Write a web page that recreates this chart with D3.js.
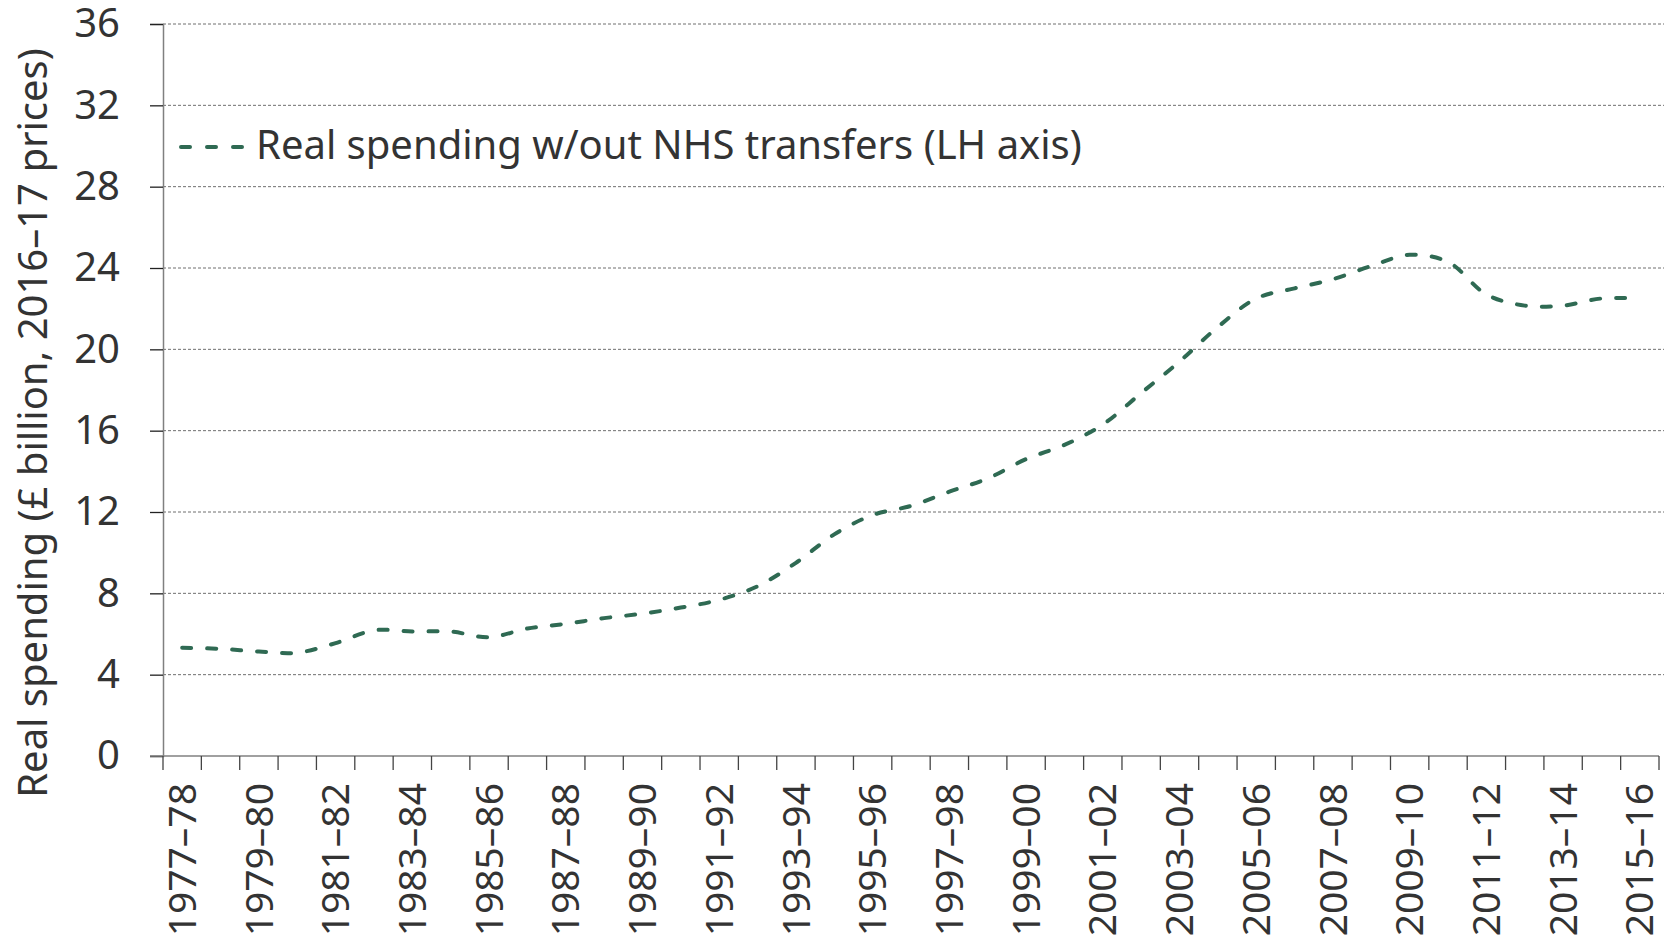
<!DOCTYPE html>
<html>
<head>
<meta charset="utf-8">
<script src="https://cdn.jsdelivr.net/npm/d3@7"></script>
<style>
  html, body { margin: 0; padding: 0; background: #fff; }
  svg { display: block; font-family: "Noto Sans", "Open Sans", sans-serif; }
</style>
</head>
<body>
<svg id="chart" width="1664" height="939"></svg>
<script>
const categories = ["1977–78","1978–79","1979–80","1980–81","1981–82","1982–83","1983–84","1984–85","1985–86","1986–87",
  "1987–88","1988–89","1989–90","1990–91","1991–92","1992–93","1993–94","1994–95","1995–96","1996–97",
  "1997–98","1998–99","1999–00","2000–01","2001–02","2002–03","2003–04","2004–05","2005–06","2006–07",
  "2007–08","2008–09","2009–10","2010–11","2011–12","2012–13","2013–14","2014–15","2015–16"];
const realSpending = [5.32, 5.27, 5.14, 5.08, 5.55, 6.18, 6.12, 6.12, 5.84, 6.27,
  6.5, 6.78, 7.0, 7.3, 7.68, 8.35, 9.5, 10.9, 11.85, 12.3,
  13.0, 13.65, 14.6, 15.3, 16.3, 17.85, 19.4, 21.1, 22.5, 23.0,
  23.45, 24.1, 24.65, 24.3, 22.7, 22.15, 22.15, 22.5, 22.5];
const yTicks = [0, 4, 8, 12, 16, 20, 24, 28, 32, 36];
const seriesName = "Real spending w/out NHS transfers (LH axis)";
const yTitle = "Real spending (£ billion, 2016–17 prices)";

const svg = d3.select("#chart");
const W = 1664, H = 939;
const m = {left: 163, right: 5, top: 24, bottom: 183};
const x = d3.scaleBand().domain(categories).range([m.left, W - m.right]).padding(0);
const y = d3.scaleLinear().domain([0, 36]).range([H - m.bottom, m.top]);
const textColor = "#333";
const fs = 40;
const ff = "'Noto Sans', 'Open Sans', sans-serif";

// gridlines
svg.append("g").selectAll("line").data(yTicks.filter(d => d > 0)).join("line")
  .attr("x1", m.left).attr("x2", W)
  .attr("y1", d => y(d)).attr("y2", d => y(d))
  .attr("stroke", "#6f6f6f").attr("stroke-width", 1).attr("stroke-dasharray", "3,2");

// y axis
const yAxis = svg.append("g").attr("transform", `translate(${m.left},0)`)
  .call(d3.axisLeft(y).tickValues(yTicks).tickSize(13).tickPadding(30).tickFormat(d3.format("d")));
yAxis.select(".domain").attr("stroke", "#808080").attr("stroke-width", 1.5);
yAxis.selectAll(".tick line").attr("stroke", "#222").attr("stroke-width", 1.3);
yAxis.selectAll("text").attr("fill", textColor).style("font-size", fs + "px")
  .style("font-family", ff);

// x axis
const xAxisG = svg.append("g").attr("transform", `translate(0,${y(0)})`);
xAxisG.append("line").attr("x1", m.left - 13).attr("x2", W - m.right)
  .attr("stroke", "#808080").attr("stroke-width", 1.5);
const boundaries = d3.range(categories.length + 1);
xAxisG.selectAll("line.tk").data(boundaries).join("line").attr("class", "tk")
  .attr("x1", i => m.left + i * x.bandwidth()).attr("x2", i => m.left + i * x.bandwidth())
  .attr("y1", 0).attr("y2", 14)
  .attr("stroke", "#444").attr("stroke-width", 1.3);
xAxisG.selectAll("text").data(categories.filter((d, i) => i % 2 === 0)).join("text")
  .attr("transform", d => `translate(${x(d) + x.bandwidth() / 2},27) rotate(-90)`)
  .attr("text-anchor", "end").attr("dy", "0.35em")
  .attr("fill", textColor).style("font-size", "39px").style("font-family", ff)
  .text(d => d);

// y title
svg.append("text")
  .attr("transform", `translate(47,423) rotate(-90)`)
  .attr("text-anchor", "middle")
  .attr("fill", textColor).style("font-size", fs + "px").style("font-family", ff)
  .text(yTitle);

// line
const lineColor = "#2f6a53";
const line = d3.line()
  .x((d, i) => x(categories[i]) + x.bandwidth() / 2)
  .y(d => y(d))
  .curve(d3.curveCatmullRom.alpha(0.5));
svg.append("path").datum(realSpending)
  .attr("d", line).attr("fill", "none")
  .attr("stroke", lineColor).attr("stroke-width", 4)
  .attr("stroke-linecap", "round").attr("stroke-dasharray", "9,16");

// legend
const lg = svg.append("g");
lg.append("line").attr("x1", 181).attr("x2", 247).attr("y1", 147).attr("y2", 147)
  .attr("stroke", lineColor).attr("stroke-width", 4).attr("stroke-linecap", "round")
  .attr("stroke-dasharray", "9,17");
lg.append("text").attr("x", 256).attr("y", 159)
  .attr("fill", textColor).style("font-size", fs + "px").style("font-family", ff).text(seriesName);
</script>
</body>
</html>
